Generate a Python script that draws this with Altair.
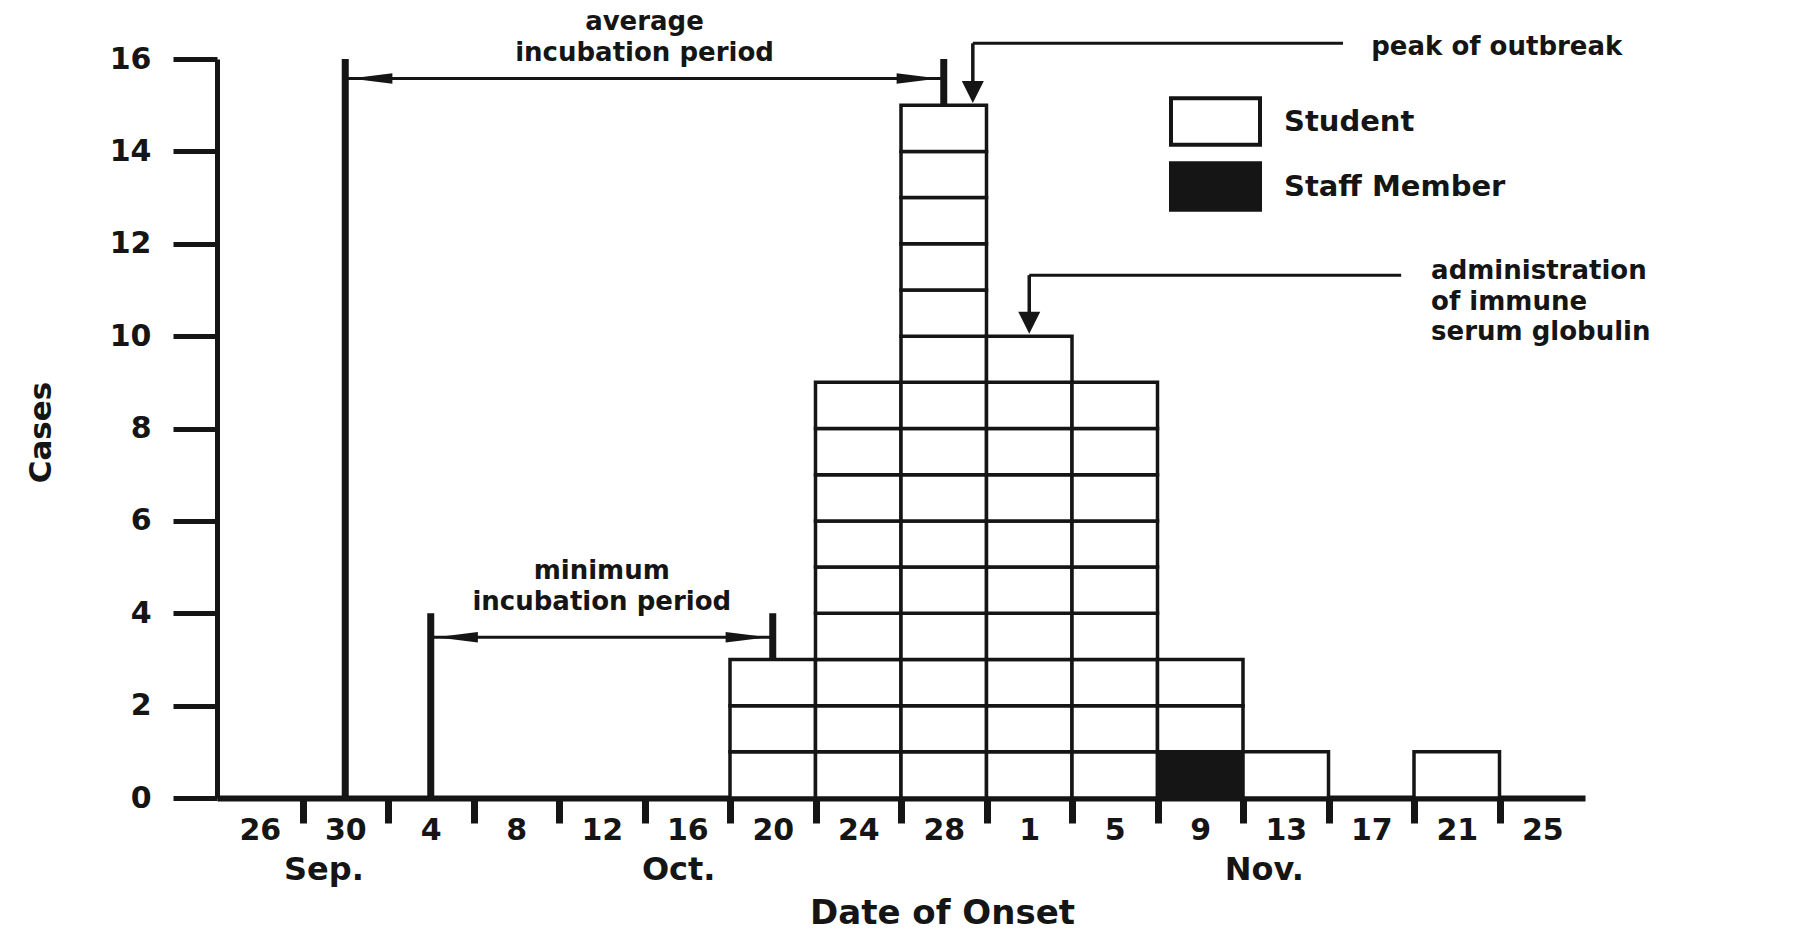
import altair as alt
import pandas as pd

# ---------------- data ----------------
bin_labels = ["26", "30", "4", "8", "12", "16", "20", "24", "28", "1", "5", "9", "13", "17", "21", "25"]
student_cases = [0, 0, 0, 0, 0, 0, 3, 9, 15, 10, 9, 2, 1, 0, 1, 0]
staff_cases = [0, 0, 0, 0, 0, 0, 0, 0, 0, 0, 0, 1, 0, 0, 0, 0]
case_types = ["Student", "Staff Member"]

months = ["Sep.", "Oct.", "Nov."]
month_bin = [1.25, 5.4, 12.25]

# incubation markers (bin position, case level from, case level to)
marker_x = [1.5, 2.5, 6.5, 8.5]
marker_from = [0, 0, 3, 15]
marker_to = [16, 4, 4, 16]

# double-headed period arrows
period_from = [1.5, 2.5]
period_to = [8.5, 6.5]
period_level = [15.58, 3.48]
period_text = [["average", "incubation period"], ["minimum", "incubation period"]]
period_text_level = [[16.80, 16.13], [4.92, 4.25]]

# callouts
callout_arrow_x = [8.84, 9.5]
callout_tip = [15.05, 10.05]
callout_level = [16.34, 11.32]
callout_end = [13.17, 13.85]
callout_text_x = [13.5, 14.2]
callout_text = [["peak of outbreak"], ["administration", "of immune", "serum globulin"]]
callout_text_level = [[16.27], [11.40, 10.74, 10.08]]

FONT = "DejaVu Sans"
INK = "#151515"

# ---------------- tables ----------------
cells = []
for i in range(len(bin_labels)):
    k = 0
    for _ in range(staff_cases[i]):
        cells.append({"b": i, "b2": i + 1, "c": k, "c2": k + 1, "type": "Staff Member"})
        k += 1
    for _ in range(student_cases[i]):
        cells.append({"b": i, "b2": i + 1, "c": k, "c2": k + 1, "type": "Student"})
        k += 1
cells_df = pd.DataFrame(cells)

markers_df = pd.DataFrame({"x": marker_x, "y": marker_from, "y2": marker_to})

hlines = pd.DataFrame({
    "x": period_from + callout_arrow_x,
    "x2": period_to + callout_end,
    "y": period_level + callout_level,
})
vleads = pd.DataFrame({"x": callout_arrow_x, "y": callout_level, "y2": [t + 0.3 for t in callout_tip]})

left_heads = pd.DataFrame({"x": [a + 0.06 for a in period_from], "y": period_level})
right_heads = pd.DataFrame({"x": [b - 0.06 for b in period_to], "y": period_level})
down_heads = pd.DataFrame({"x": callout_arrow_x, "y": callout_tip})

center_txt = []
for j in range(len(period_text)):
    mid = (period_from[j] + period_to[j]) / 2
    for line, lev in zip(period_text[j], period_text_level[j]):
        center_txt.append({"x": mid, "y": lev, "t": line})
center_df = pd.DataFrame(center_txt)

left_txt = []
for j in range(len(callout_text)):
    for line, lev in zip(callout_text[j], callout_text_level[j]):
        left_txt.append({"x": callout_text_x[j], "y": lev, "t": line})
left_df = pd.DataFrame(left_txt)

month_df = pd.DataFrame({"x": month_bin, "y": [-1.56] * len(months), "t": months})

# ---------------- scales / axes ----------------
n_bins = len(bin_labels)
xscale = alt.Scale(domain=[0, n_bins], nice=False, zero=False)
yscale = alt.Scale(domain=[0, 16], nice=False, zero=False)

arr = "[" + ",".join("'" + s + "'" for s in bin_labels) + "]"
x_values = sorted([i + 0.5 for i in range(n_bins)] + list(range(1, n_bins)))

x_axis = alt.Axis(
    values=x_values,
    labelExpr=f"(datum.value % 1) > 0.25 ? {arr}[floor(datum.value)] : ''",
    tickOpacity=alt.condition("datum.value % 1 < 0.25", alt.value(1), alt.value(0)),
    tickSize=25, tickWidth=7, tickColor=INK,
    domainWidth=6, domainColor=INK,
    labelFont=FONT, labelFontSize=30, labelFontWeight="bold", labelColor=INK,
    labelPadding=-8, labelOverlap=False, labelFlush=False,
    grid=False,
    title="Date of Onset", titleFont=FONT, titleFontSize=34, titleFontWeight="bold", titleColor=INK,
    titleX=725, titleY=115, titleAlign="center", titleBaseline="middle",
)
y_axis = alt.Axis(
    values=list(range(0, 17, 2)),
    tickSize=44, tickWidth=5, tickColor=INK,
    domainWidth=5, domainColor=INK,
    labelFont=FONT, labelFontSize=30, labelFontWeight="bold", labelColor=INK, labelPadding=22,
    grid=False,
    title="Cases", titleFont=FONT, titleFontSize=31, titleFontWeight="bold", titleColor=INK,
    titleAngle=270, titleX=-176, titleY=373, titleAlign="center", titleBaseline="middle",
)

legend = alt.Legend(
    title=None, orient="none", legendX=952, legendY=34, padding=0,
    symbolType="M-1,-0.52L1,-0.52L1,0.52L-1,0.52Z", symbolSize=7921,
    symbolStrokeColor=INK, symbolStrokeWidth=4, symbolOpacity=1,
    labelFont=FONT, labelFontSize=29, labelFontWeight="bold", labelColor=INK,
    labelOffset=22, labelLimit=0, clipHeight=57, rowPadding=8,
)

# ---------------- layers ----------------
bars = alt.Chart(cells_df).mark_rect(stroke=INK, strokeWidth=3.5).encode(
    x=alt.X("b:Q", scale=xscale, axis=x_axis),
    x2="b2:Q",
    y=alt.Y("c:Q", scale=yscale, axis=y_axis),
    y2="c2:Q",
    fill=alt.Fill("type:N", scale=alt.Scale(domain=case_types, range=["white", INK]), legend=legend),
)

markers = alt.Chart(markers_df).mark_rule(color=INK, strokeWidth=7).encode(
    x=alt.X("x:Q", scale=xscale), y=alt.Y("y:Q", scale=yscale), y2="y2:Q"
)
h_rules = alt.Chart(hlines).mark_rule(color=INK, strokeWidth=3).encode(
    x=alt.X("x:Q", scale=xscale), x2="x2:Q", y=alt.Y("y:Q", scale=yscale)
)
v_rules = alt.Chart(vleads).mark_rule(color=INK, strokeWidth=3.5).encode(
    x=alt.X("x:Q", scale=xscale), y=alt.Y("y:Q", scale=yscale), y2="y2:Q"
)

def heads(df, path, size):
    return alt.Chart(df).mark_point(shape=path, size=size, filled=True, color=INK, opacity=1, strokeWidth=0).encode(
        x=alt.X("x:Q", scale=xscale), y=alt.Y("y:Q", scale=yscale)
    )

lh = heads(left_heads, "M0,0L2,-0.25L2,0.25Z", 1764)
rh = heads(right_heads, "M0,0L-2,-0.25L-2,0.25Z", 1764)
dh = heads(down_heads, "M0,0L-0.5,-1L0.5,-1Z", 1936)

ctext = alt.Chart(center_df).mark_text(font=FONT, fontSize=26, fontWeight="bold", color=INK, align="center", baseline="middle").encode(
    x=alt.X("x:Q", scale=xscale), y=alt.Y("y:Q", scale=yscale), text="t:N"
)
ltext = alt.Chart(left_df).mark_text(font=FONT, fontSize=26, fontWeight="bold", color=INK, align="left", baseline="middle").encode(
    x=alt.X("x:Q", scale=xscale), y=alt.Y("y:Q", scale=yscale), text="t:N"
)
mtext = alt.Chart(month_df).mark_text(font=FONT, fontSize=32, fontWeight="bold", color=INK, align="center", baseline="middle").encode(
    x=alt.X("x:Q", scale=xscale), y=alt.Y("y:Q", scale=yscale), text="t:N"
)

chart = alt.layer(bars, markers, h_rules, v_rules, lh, rh, dh, ctext, ltext, mtext).properties(
    width=1368, height=739,
    autosize=alt.AutoSizeParams(type="none"),
    padding={"left": 217, "top": 59, "right": 226, "bottom": 136},
    background="white",
).configure_view(stroke=None)

chart.save("out.html", embed_options={"renderer": "svg", "actions": False})
